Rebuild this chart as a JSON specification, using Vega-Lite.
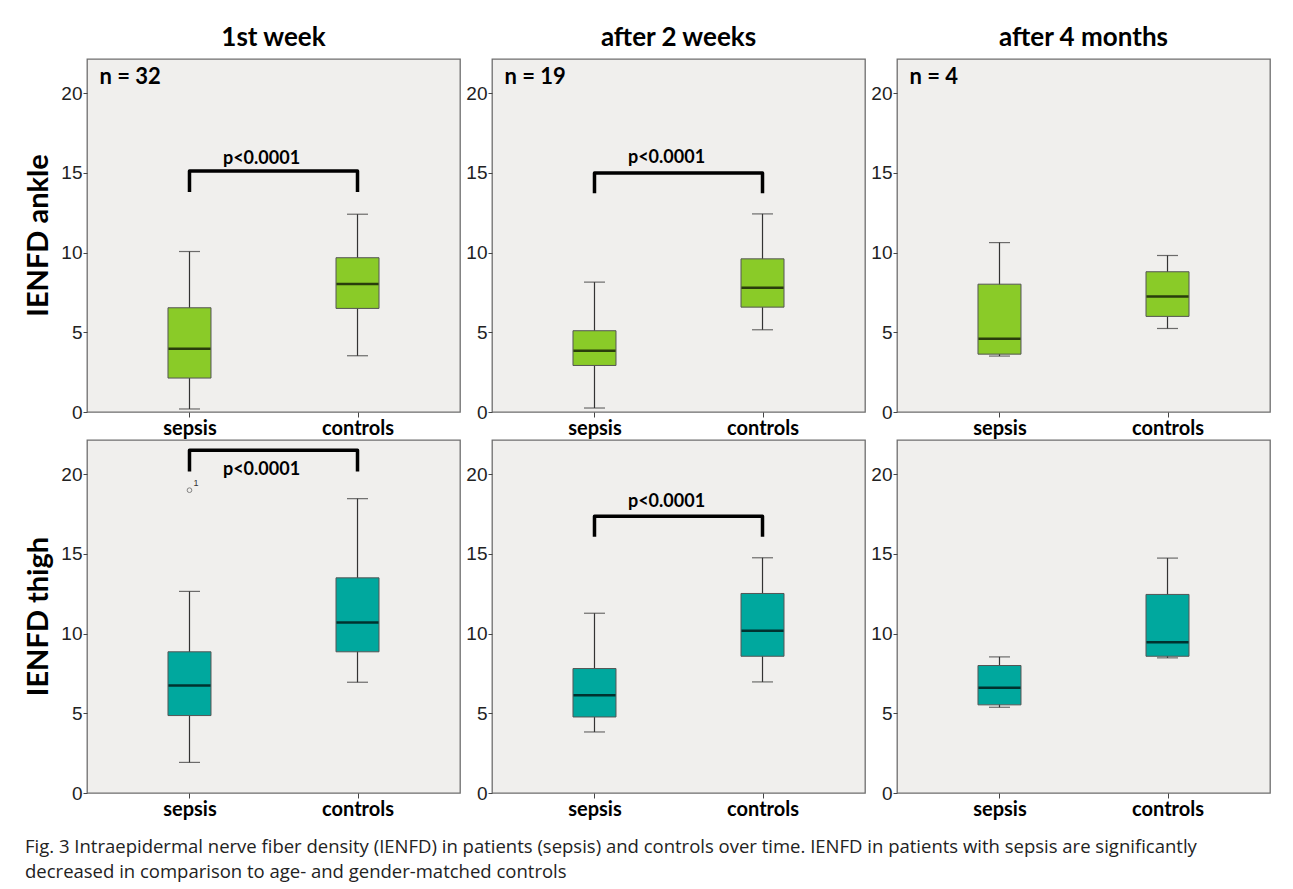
{
  "$schema": "https://vega.github.io/schema/vega-lite/v6.json",
  "background": "white",
  "padding": {"left": 24, "top": 25, "right": 12, "bottom": 8},
  "title": {
    "text": ["Fig. 3 Intraepidermal nerve fiber density (IENFD) in patients (sepsis) and controls over time. IENFD in patients with sepsis are significantly", "decreased in comparison to age- and gender-matched controls"],
    "orient": "bottom", "anchor": "start", "frame": "bounds",
    "font": "Open Sans", "fontSize": 18.5, "fontWeight": "normal", "color": "#222",
    "lineHeight": 25, "offset": 18
  },
  "data": {"values": [
    {"kind": "box", "site": "IENFD ankle", "week": "1st week", "group": "sepsis", "lo": 0.19, "q1": 2.13, "med": 3.97, "q3": 6.54, "hi": 10.07},
    {"kind": "box", "site": "IENFD ankle", "week": "1st week", "group": "controls", "lo": 3.53, "q1": 6.5, "med": 8.03, "q3": 9.68, "hi": 12.41},
    {"kind": "box", "site": "IENFD ankle", "week": "after 2 weeks", "group": "sepsis", "lo": 0.25, "q1": 2.92, "med": 3.84, "q3": 5.1, "hi": 8.15},
    {"kind": "box", "site": "IENFD ankle", "week": "after 2 weeks", "group": "controls", "lo": 5.16, "q1": 6.58, "med": 7.79, "q3": 9.61, "hi": 12.43},
    {"kind": "box", "site": "IENFD ankle", "week": "after 4 months", "group": "sepsis", "lo": 3.51, "q1": 3.63, "med": 4.6, "q3": 8.02, "hi": 10.63},
    {"kind": "box", "site": "IENFD ankle", "week": "after 4 months", "group": "controls", "lo": 5.24, "q1": 6.0, "med": 7.25, "q3": 8.8, "hi": 9.82},
    {"kind": "box", "site": "IENFD thigh", "week": "1st week", "group": "sepsis", "lo": 1.92, "q1": 4.86, "med": 6.74, "q3": 8.86, "hi": 12.65},
    {"kind": "box", "site": "IENFD thigh", "week": "1st week", "group": "controls", "lo": 6.95, "q1": 8.86, "med": 10.7, "q3": 13.5, "hi": 18.47},
    {"kind": "box", "site": "IENFD thigh", "week": "after 2 weeks", "group": "sepsis", "lo": 3.83, "q1": 4.77, "med": 6.13, "q3": 7.81, "hi": 11.28},
    {"kind": "box", "site": "IENFD thigh", "week": "after 2 weeks", "group": "controls", "lo": 6.97, "q1": 8.58, "med": 10.18, "q3": 12.52, "hi": 14.76},
    {"kind": "box", "site": "IENFD thigh", "week": "after 4 months", "group": "sepsis", "lo": 5.38, "q1": 5.53, "med": 6.6, "q3": 8.0, "hi": 8.54},
    {"kind": "box", "site": "IENFD thigh", "week": "after 4 months", "group": "controls", "lo": 8.48, "q1": 8.58, "med": 9.46, "q3": 12.46, "hi": 14.74},
    {"kind": "out", "site": "IENFD thigh", "week": "1st week", "group": "sepsis", "val": 19.0, "label": "1"},
    {"kind": "n", "site": "IENFD ankle", "week": "1st week", "group": "sepsis", "val": 21.05, "label": "n = 32"},
    {"kind": "n", "site": "IENFD ankle", "week": "after 2 weeks", "group": "sepsis", "val": 21.05, "label": "n = 19"},
    {"kind": "n", "site": "IENFD ankle", "week": "after 4 months", "group": "sepsis", "val": 21.05, "label": "n = 4"},
    {"kind": "p", "site": "IENFD ankle", "week": "1st week", "group": "sepsis", "val": 15.9, "label": "p<0.0001"},
    {"kind": "p", "site": "IENFD ankle", "week": "after 2 weeks", "group": "sepsis", "val": 15.93, "label": "p<0.0001"},
    {"kind": "p", "site": "IENFD thigh", "week": "1st week", "group": "sepsis", "val": 20.27, "label": "p<0.0001"},
    {"kind": "p", "site": "IENFD thigh", "week": "after 2 weeks", "group": "sepsis", "val": 18.25, "label": "p<0.0001"},
    {"kind": "br", "site": "IENFD ankle", "week": "1st week", "group": "sepsis", "val": 13.8, "ord": 1},
    {"kind": "br", "site": "IENFD ankle", "week": "1st week", "group": "sepsis", "val": 15.13, "ord": 2},
    {"kind": "br", "site": "IENFD ankle", "week": "1st week", "group": "controls", "val": 15.13, "ord": 3},
    {"kind": "br", "site": "IENFD ankle", "week": "1st week", "group": "controls", "val": 13.8, "ord": 4},
    {"kind": "br", "site": "IENFD ankle", "week": "after 2 weeks", "group": "sepsis", "val": 13.73, "ord": 1},
    {"kind": "br", "site": "IENFD ankle", "week": "after 2 weeks", "group": "sepsis", "val": 15.0, "ord": 2},
    {"kind": "br", "site": "IENFD ankle", "week": "after 2 weeks", "group": "controls", "val": 15.0, "ord": 3},
    {"kind": "br", "site": "IENFD ankle", "week": "after 2 weeks", "group": "controls", "val": 13.73, "ord": 4},
    {"kind": "br", "site": "IENFD thigh", "week": "1st week", "group": "sepsis", "val": 20.17, "ord": 1},
    {"kind": "br", "site": "IENFD thigh", "week": "1st week", "group": "sepsis", "val": 21.5, "ord": 2},
    {"kind": "br", "site": "IENFD thigh", "week": "1st week", "group": "controls", "val": 21.5, "ord": 3},
    {"kind": "br", "site": "IENFD thigh", "week": "1st week", "group": "controls", "val": 20.17, "ord": 4},
    {"kind": "br", "site": "IENFD thigh", "week": "after 2 weeks", "group": "sepsis", "val": 16.08, "ord": 1},
    {"kind": "br", "site": "IENFD thigh", "week": "after 2 weeks", "group": "sepsis", "val": 17.37, "ord": 2},
    {"kind": "br", "site": "IENFD thigh", "week": "after 2 weeks", "group": "controls", "val": 17.37, "ord": 3},
    {"kind": "br", "site": "IENFD thigh", "week": "after 2 weeks", "group": "controls", "val": 16.08, "ord": 4}
  ]},
  "facet": {
    "row": {"field": "site", "type": "nominal", "sort": ["IENFD ankle", "IENFD thigh"],
      "header": {"title": null, "labelFont": "Lato", "labelFontSize": 29, "labelFontWeight": "bold", "labelColor": "#000", "labelAngle": -90, "labelPadding": -8}},
    "column": {"field": "week", "type": "nominal", "sort": ["1st week", "after 2 weeks", "after 4 months"],
      "header": {"title": null, "labelFont": "Lato", "labelFontSize": 26, "labelFontWeight": "bold", "labelColor": "#000", "labelPadding": 7}}
  },
  "spacing": {"row": 0, "column": 4},
  "resolve": {"axis": {"x": "independent", "y": "independent"}},
  "spec": {
    "width": 373,
    "height": 353,
    "encoding": {
      "x": {"field": "group", "type": "nominal", "sort": ["sepsis", "controls"],
        "scale": {"type": "point", "padding": 0.61, "domain": ["sepsis", "controls"]},
        "axis": {"title": null, "labelAngle": 0, "domain": false, "ticks": true, "tickSize": 5, "tickColor": "#444", "labelPadding": 1,
          "labelFont": "Lato", "labelFontSize": 20, "labelFontWeight": "bold", "labelColor": "#000"}}
    },
    "layer": [
      {"transform": [{"filter": "datum.kind === 'box'"}],
       "mark": {"type": "rule", "color": "#333", "strokeWidth": 1.2},
       "encoding": {"y": {"field": "lo", "type": "quantitative",
          "scale": {"domain": [0, 22.15], "nice": false, "zero": true},
          "axis": {"title": null, "values": [0, 5, 10, 15, 20], "grid": false, "domain": false, "tickSize": 4, "tickColor": "#444", "labelPadding": 1,
            "labelFont": "Liberation Sans", "labelFontSize": 19, "labelColor": "#222"}},
         "y2": {"field": "hi"}}},
      {"transform": [{"filter": "datum.kind === 'box'"}],
       "mark": {"type": "tick", "color": "#333", "size": 21, "thickness": 1.2},
       "encoding": {"y": {"field": "lo", "type": "quantitative"}}},
      {"transform": [{"filter": "datum.kind === 'box'"}],
       "mark": {"type": "tick", "color": "#333", "size": 21, "thickness": 1.2},
       "encoding": {"y": {"field": "hi", "type": "quantitative"}}},
      {"transform": [{"filter": "datum.kind === 'box'"}],
       "mark": {"type": "bar", "size": 43, "stroke": "#555", "strokeWidth": 1},
       "encoding": {"y": {"field": "q1", "type": "quantitative"}, "y2": {"field": "q3"},
         "color": {"field": "site", "type": "nominal", "scale": {"domain": ["IENFD ankle", "IENFD thigh"], "range": ["#8acb28", "#00a89e"]}, "legend": null}}},
      {"transform": [{"filter": "datum.kind === 'box'"}],
       "mark": {"type": "tick", "color": "#000", "size": 42, "thickness": 2.5},
       "encoding": {"y": {"field": "med", "type": "quantitative"}}},
      {"transform": [{"filter": "datum.kind === 'br'"}],
       "mark": {"type": "line", "color": "#000", "strokeWidth": 3.5, "strokeJoin": "round", "strokeCap": "butt"},
       "encoding": {"y": {"field": "val", "type": "quantitative"}, "order": {"field": "ord", "type": "quantitative"}}},
      {"transform": [{"filter": "datum.kind === 'p'"}],
       "mark": {"type": "text", "font": "Lato", "fontSize": 18, "fontWeight": "bold", "color": "#000", "align": "center", "baseline": "middle", "dx": 72},
       "encoding": {"y": {"field": "val", "type": "quantitative"}, "text": {"field": "label"}}},
      {"transform": [{"filter": "datum.kind === 'n'"}],
       "mark": {"type": "text", "font": "Lato", "fontSize": 22, "fontWeight": "bold", "color": "#000", "align": "left", "baseline": "middle", "dx": -90},
       "encoding": {"y": {"field": "val", "type": "quantitative"}, "text": {"field": "label"}}},
      {"transform": [{"filter": "datum.kind === 'out'"}],
       "mark": {"type": "point", "shape": "circle", "filled": false, "size": 22, "stroke": "#555", "strokeWidth": 1},
       "encoding": {"y": {"field": "val", "type": "quantitative"}}},
      {"transform": [{"filter": "datum.kind === 'out'"}],
       "mark": {"type": "text", "font": "Liberation Sans", "fontSize": 9, "color": "#333", "align": "left", "baseline": "middle", "dx": 4, "dy": -7},
       "encoding": {"y": {"field": "val", "type": "quantitative"}, "text": {"field": "label"}}}
    ]
  },
  "config": {
    "view": {"fill": "#f0efed", "stroke": "#6e6e6e", "strokeWidth": 1.3}
  }
}
